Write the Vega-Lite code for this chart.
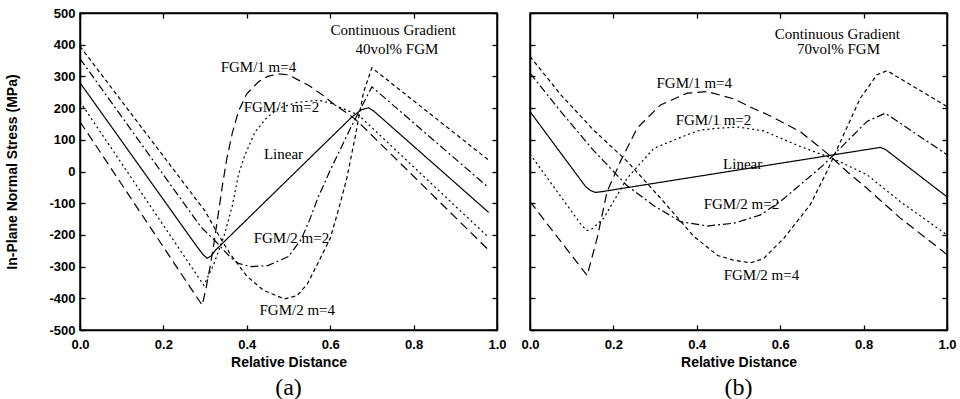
{
"$schema": "https://vega.github.io/schema/vega-lite/v6.json",
"padding": {"left": 5, "top": 6, "right": 5, "bottom": 2},
"bounds": "flush",
"spacing": 33,
"background": "white",
"config": {
  "view": {"stroke": "black", "strokeWidth": 1.5},
  "axis": {"domainColor": "black", "domainWidth": 1.5, "tickColor": "black", "tickSize": -5, "tickWidth": 1.3, "grid": false,
    "labelFont": "Liberation Sans", "labelFontWeight": "bold", "labelFontSize": 13, "labelColor": "black",
    "titleFont": "Liberation Sans", "titleFontWeight": "bold", "titleFontSize": 14, "titleColor": "black"},
  "title": {"font": "Liberation Serif", "fontSize": 24, "fontWeight": "normal", "color": "black"},
  "text": {"font": "Liberation Serif", "fontSize": 15, "color": "black"}
},
"datasets": {
"curves": [
{"p":"a","s":"Linear","x":0,"y":280},{"p":"a","s":"Linear","x":0.28,"y":-236},{"p":"a","s":"Linear","x":0.295,"y":-262},{"p":"a","s":"Linear","x":0.305,"y":-274},{"p":"a","s":"Linear","x":0.315,"y":-266},{"p":"a","s":"Linear","x":0.325,"y":-248},{"p":"a","s":"Linear","x":0.652,"y":172},{"p":"a","s":"Linear","x":0.675,"y":195},{"p":"a","s":"Linear","x":0.692,"y":201},{"p":"a","s":"Linear","x":0.705,"y":190},{"p":"a","s":"Linear","x":0.98,"y":-129},
{"p":"a","s":"FGM/1 m=4","x":0,"y":157},{"p":"a","s":"FGM/1 m=4","x":0.293,"y":-422},{"p":"a","s":"FGM/1 m=4","x":0.302,"y":-370},{"p":"a","s":"FGM/1 m=4","x":0.312,"y":-300},{"p":"a","s":"FGM/1 m=4","x":0.322,"y":-220},{"p":"a","s":"FGM/1 m=4","x":0.332,"y":-130},{"p":"a","s":"FGM/1 m=4","x":0.342,"y":-40},{"p":"a","s":"FGM/1 m=4","x":0.352,"y":40},{"p":"a","s":"FGM/1 m=4","x":0.365,"y":120},{"p":"a","s":"FGM/1 m=4","x":0.38,"y":190},{"p":"a","s":"FGM/1 m=4","x":0.4,"y":245},{"p":"a","s":"FGM/1 m=4","x":0.428,"y":283},{"p":"a","s":"FGM/1 m=4","x":0.45,"y":300},{"p":"a","s":"FGM/1 m=4","x":0.476,"y":308},{"p":"a","s":"FGM/1 m=4","x":0.5,"y":305},{"p":"a","s":"FGM/1 m=4","x":0.548,"y":272},{"p":"a","s":"FGM/1 m=4","x":0.58,"y":243},{"p":"a","s":"FGM/1 m=4","x":0.612,"y":209},{"p":"a","s":"FGM/1 m=4","x":0.64,"y":185},{"p":"a","s":"FGM/1 m=4","x":0.66,"y":165},{"p":"a","s":"FGM/1 m=4","x":0.68,"y":140},{"p":"a","s":"FGM/1 m=4","x":0.98,"y":-248},
{"p":"a","s":"FGM/1 m=2","x":0,"y":220},{"p":"a","s":"FGM/1 m=2","x":0.297,"y":-359},{"p":"a","s":"FGM/1 m=2","x":0.32,"y":-295},{"p":"a","s":"FGM/1 m=2","x":0.345,"y":-205},{"p":"a","s":"FGM/1 m=2","x":0.365,"y":-110},{"p":"a","s":"FGM/1 m=2","x":0.38,"y":-10},{"p":"a","s":"FGM/1 m=2","x":0.395,"y":50},{"p":"a","s":"FGM/1 m=2","x":0.42,"y":125},{"p":"a","s":"FGM/1 m=2","x":0.448,"y":170},{"p":"a","s":"FGM/1 m=2","x":0.476,"y":199},{"p":"a","s":"FGM/1 m=2","x":0.52,"y":218},{"p":"a","s":"FGM/1 m=2","x":0.572,"y":225},{"p":"a","s":"FGM/1 m=2","x":0.6,"y":216},{"p":"a","s":"FGM/1 m=2","x":0.628,"y":200},{"p":"a","s":"FGM/1 m=2","x":0.668,"y":178},{"p":"a","s":"FGM/1 m=2","x":0.98,"y":-208},
{"p":"a","s":"FGM/2 m=2","x":0,"y":356},{"p":"a","s":"FGM/2 m=2","x":0.29,"y":-175},{"p":"a","s":"FGM/2 m=2","x":0.325,"y":-220},{"p":"a","s":"FGM/2 m=2","x":0.36,"y":-270},{"p":"a","s":"FGM/2 m=2","x":0.38,"y":-290},{"p":"a","s":"FGM/2 m=2","x":0.41,"y":-300},{"p":"a","s":"FGM/2 m=2","x":0.45,"y":-297},{"p":"a","s":"FGM/2 m=2","x":0.5,"y":-268},{"p":"a","s":"FGM/2 m=2","x":0.53,"y":-215},{"p":"a","s":"FGM/2 m=2","x":0.55,"y":-155},{"p":"a","s":"FGM/2 m=2","x":0.57,"y":-85},{"p":"a","s":"FGM/2 m=2","x":0.6,"y":4},{"p":"a","s":"FGM/2 m=2","x":0.65,"y":140},{"p":"a","s":"FGM/2 m=2","x":0.7,"y":267},{"p":"a","s":"FGM/2 m=2","x":0.98,"y":-51},
{"p":"a","s":"FGM/2 m=4","x":0,"y":395},{"p":"a","s":"FGM/2 m=4","x":0.3,"y":-125},{"p":"a","s":"FGM/2 m=4","x":0.33,"y":-195},{"p":"a","s":"FGM/2 m=4","x":0.36,"y":-260},{"p":"a","s":"FGM/2 m=4","x":0.4,"y":-330},{"p":"a","s":"FGM/2 m=4","x":0.44,"y":-375},{"p":"a","s":"FGM/2 m=4","x":0.49,"y":-402},{"p":"a","s":"FGM/2 m=4","x":0.52,"y":-392},{"p":"a","s":"FGM/2 m=4","x":0.545,"y":-355},{"p":"a","s":"FGM/2 m=4","x":0.568,"y":-296},{"p":"a","s":"FGM/2 m=4","x":0.6,"y":-211},{"p":"a","s":"FGM/2 m=4","x":0.62,"y":-120},{"p":"a","s":"FGM/2 m=4","x":0.64,"y":-20},{"p":"a","s":"FGM/2 m=4","x":0.66,"y":110},{"p":"a","s":"FGM/2 m=4","x":0.68,"y":250},{"p":"a","s":"FGM/2 m=4","x":0.7,"y":327},{"p":"a","s":"FGM/2 m=4","x":0.98,"y":36},
{"p":"b","s":"Linear","x":0,"y":189},{"p":"b","s":"Linear","x":0.133,"y":-47},{"p":"b","s":"Linear","x":0.145,"y":-60},{"p":"b","s":"Linear","x":0.157,"y":-66},{"p":"b","s":"Linear","x":0.17,"y":-64},{"p":"b","s":"Linear","x":0.84,"y":76},{"p":"b","s":"Linear","x":0.852,"y":70},{"p":"b","s":"Linear","x":1.0,"y":-80},
{"p":"b","s":"FGM/1 m=4","x":0,"y":-95},{"p":"b","s":"FGM/1 m=4","x":0.137,"y":-328},{"p":"b","s":"FGM/1 m=4","x":0.161,"y":-210},{"p":"b","s":"FGM/1 m=4","x":0.185,"y":-63},{"p":"b","s":"FGM/1 m=4","x":0.217,"y":32},{"p":"b","s":"FGM/1 m=4","x":0.257,"y":137},{"p":"b","s":"FGM/1 m=4","x":0.313,"y":210},{"p":"b","s":"FGM/1 m=4","x":0.377,"y":247},{"p":"b","s":"FGM/1 m=4","x":0.425,"y":252},{"p":"b","s":"FGM/1 m=4","x":0.489,"y":229},{"p":"b","s":"FGM/1 m=4","x":0.537,"y":198},{"p":"b","s":"FGM/1 m=4","x":0.569,"y":180},{"p":"b","s":"FGM/1 m=4","x":0.648,"y":126},{"p":"b","s":"FGM/1 m=4","x":0.712,"y":58},{"p":"b","s":"FGM/1 m=4","x":0.76,"y":0},{"p":"b","s":"FGM/1 m=4","x":0.808,"y":-53},{"p":"b","s":"FGM/1 m=4","x":0.888,"y":-147},{"p":"b","s":"FGM/1 m=4","x":1.0,"y":-262},
{"p":"b","s":"FGM/1 m=2","x":0,"y":55},{"p":"b","s":"FGM/1 m=2","x":0.125,"y":-172},{"p":"b","s":"FGM/1 m=2","x":0.137,"y":-186},{"p":"b","s":"FGM/1 m=2","x":0.15,"y":-180},{"p":"b","s":"FGM/1 m=2","x":0.177,"y":-147},{"p":"b","s":"FGM/1 m=2","x":0.233,"y":-21},{"p":"b","s":"FGM/1 m=2","x":0.297,"y":73},{"p":"b","s":"FGM/1 m=2","x":0.377,"y":116},{"p":"b","s":"FGM/1 m=2","x":0.409,"y":131},{"p":"b","s":"FGM/1 m=2","x":0.457,"y":137},{"p":"b","s":"FGM/1 m=2","x":0.5,"y":140},{"p":"b","s":"FGM/1 m=2","x":0.56,"y":128},{"p":"b","s":"FGM/1 m=2","x":0.648,"y":79},{"p":"b","s":"FGM/1 m=2","x":0.728,"y":40},{"p":"b","s":"FGM/1 m=2","x":0.808,"y":-10},{"p":"b","s":"FGM/1 m=2","x":0.888,"y":-95},{"p":"b","s":"FGM/1 m=2","x":1.0,"y":-200},
{"p":"b","s":"FGM/2 m=2","x":0,"y":310},{"p":"b","s":"FGM/2 m=2","x":0.074,"y":189},{"p":"b","s":"FGM/2 m=2","x":0.15,"y":70},{"p":"b","s":"FGM/2 m=2","x":0.193,"y":10},{"p":"b","s":"FGM/2 m=2","x":0.233,"y":-45},{"p":"b","s":"FGM/2 m=2","x":0.297,"y":-108},{"p":"b","s":"FGM/2 m=2","x":0.361,"y":-158},{"p":"b","s":"FGM/2 m=2","x":0.425,"y":-172},{"p":"b","s":"FGM/2 m=2","x":0.489,"y":-163},{"p":"b","s":"FGM/2 m=2","x":0.553,"y":-137},{"p":"b","s":"FGM/2 m=2","x":0.6,"y":-95},{"p":"b","s":"FGM/2 m=2","x":0.648,"y":-42},{"p":"b","s":"FGM/2 m=2","x":0.704,"y":21},{"p":"b","s":"FGM/2 m=2","x":0.752,"y":84},{"p":"b","s":"FGM/2 m=2","x":0.808,"y":158},{"p":"b","s":"FGM/2 m=2","x":0.852,"y":184},{"p":"b","s":"FGM/2 m=2","x":1.0,"y":53},
{"p":"b","s":"FGM/2 m=4","x":0,"y":363},{"p":"b","s":"FGM/2 m=4","x":0.074,"y":242},{"p":"b","s":"FGM/2 m=4","x":0.153,"y":130},{"p":"b","s":"FGM/2 m=4","x":0.233,"y":32},{"p":"b","s":"FGM/2 m=4","x":0.313,"y":-84},{"p":"b","s":"FGM/2 m=4","x":0.393,"y":-205},{"p":"b","s":"FGM/2 m=4","x":0.45,"y":-265},{"p":"b","s":"FGM/2 m=4","x":0.489,"y":-280},{"p":"b","s":"FGM/2 m=4","x":0.529,"y":-288},{"p":"b","s":"FGM/2 m=4","x":0.56,"y":-275},{"p":"b","s":"FGM/2 m=4","x":0.609,"y":-210},{"p":"b","s":"FGM/2 m=4","x":0.672,"y":-105},{"p":"b","s":"FGM/2 m=4","x":0.712,"y":0},{"p":"b","s":"FGM/2 m=4","x":0.752,"y":116},{"p":"b","s":"FGM/2 m=4","x":0.792,"y":231},{"p":"b","s":"FGM/2 m=4","x":0.832,"y":305},{"p":"b","s":"FGM/2 m=4","x":0.856,"y":318},{"p":"b","s":"FGM/2 m=4","x":1.0,"y":205}
],
"notes": [
{"p":"a","t":"Continuous Gradient","x":0.751,"y":445},{"p":"a","t":"40vol% FGM","x":0.76,"y":388},{"p":"a","t":"FGM/1 m=4","x":0.428,"y":331},{"p":"a","t":"FGM/1 m=2","x":0.483,"y":205},{"p":"a","t":"Linear","x":0.488,"y":54},{"p":"a","t":"FGM/2 m=2","x":0.507,"y":-211},{"p":"a","t":"FGM/2 m=4","x":0.521,"y":-438},
{"p":"b","t":"Continuous Gradient","x":0.737,"y":435},{"p":"b","t":"70vol% FGM","x":0.74,"y":385},{"p":"b","t":"FGM/1 m=4","x":0.394,"y":278},{"p":"b","t":"FGM/1 m=2","x":0.44,"y":164},{"p":"b","t":"Linear","x":0.51,"y":25},{"p":"b","t":"FGM/2 m=2","x":0.507,"y":-101},{"p":"b","t":"FGM/2 m=4","x":0.555,"y":-325}
]
},
"hconcat": [
{
  "width": 417, "height": 317,
  "title": {"text": "(a)", "orient": "bottom", "anchor": "middle", "offset": 7},
  "resolve": {"axis": {"x": "independent", "y": "independent"}},
  "layer": [
    {"data": {"name": "curves"}, "transform": [{"filter": "datum.p === 'a'"}],
     "mark": {"type": "line", "color": "black", "strokeWidth": 1.2},
     "encoding": {
       "x": {"field": "x", "type": "quantitative", "scale": {"domain": [0, 1], "nice": false},
             "axis": {"orient": "bottom", "values": [0, 0.2, 0.4, 0.6, 0.8, 1.0], "labelExpr": "format(datum.value, '.1f')", "labelFlush": false, "labelOverlap": false, "labelBound": false, "labelPadding": 13, "title": "Relative Distance", "titlePadding": 4}},
       "y": {"field": "y", "type": "quantitative", "scale": {"domain": [-500, 500], "nice": false},
             "axis": {"orient": "left", "values": [-500,-400,-300,-200,-100,0,100,200,300,400,500], "labelExpr": "datum.value + ''", "labelPadding": 10, "labelOverlap": false, "labelBound": false, "title": "In-Plane Normal Stress (MPa)", "titlePadding": 29}},
       "strokeDash": {"field": "s", "type": "nominal", "legend": null,
         "scale": {"domain": ["Linear", "FGM/1 m=4", "FGM/1 m=2", "FGM/2 m=2", "FGM/2 m=4"], "range": [[1, 0], [9, 5], [2, 3], [8, 3, 2, 3], [4, 3]]}}
     }},
    {"data": {"name": "notes"}, "transform": [{"filter": "datum.p === 'a'"}],
     "mark": {"type": "text", "align": "center", "baseline": "middle"},
     "encoding": {
       "x": {"field": "x", "type": "quantitative", "axis": {"orient": "top", "values": [0, 0.2, 0.4, 0.6, 0.8, 1.0], "labels": false, "title": null}},
       "y": {"field": "y", "type": "quantitative", "axis": {"orient": "right", "values": [-500,-400,-300,-200,-100,0,100,200,300,400,500], "labels": false, "title": null}},
       "text": {"field": "t"}
     }}
  ]
},
{
  "width": 417, "height": 317,
  "title": {"text": "(b)", "orient": "bottom", "anchor": "middle", "offset": 7},
  "resolve": {"axis": {"x": "independent", "y": "independent"}},
  "layer": [
    {"data": {"name": "curves"}, "transform": [{"filter": "datum.p === 'b'"}],
     "mark": {"type": "line", "color": "black", "strokeWidth": 1.2},
     "encoding": {
       "x": {"field": "x", "type": "quantitative", "scale": {"domain": [0, 1], "nice": false},
             "axis": {"orient": "bottom", "values": [0, 0.2, 0.4, 0.6, 0.8, 1.0], "labelExpr": "format(datum.value, '.1f')", "labelFlush": false, "labelOverlap": false, "labelBound": false, "labelPadding": 13, "title": "Relative Distance", "titlePadding": 4}},
       "y": {"field": "y", "type": "quantitative", "scale": {"domain": [-500, 500], "nice": false},
             "axis": {"orient": "left", "values": [-500,-400,-300,-200,-100,0,100,200,300,400,500], "labels": false, "title": null}},
       "strokeDash": {"field": "s", "type": "nominal", "legend": null,
         "scale": {"domain": ["Linear", "FGM/1 m=4", "FGM/1 m=2", "FGM/2 m=2", "FGM/2 m=4"], "range": [[1, 0], [9, 5], [2, 3], [8, 3, 2, 3], [4, 3]]}}
     }},
    {"data": {"name": "notes"}, "transform": [{"filter": "datum.p === 'b'"}],
     "mark": {"type": "text", "align": "center", "baseline": "middle"},
     "encoding": {
       "x": {"field": "x", "type": "quantitative", "axis": {"orient": "top", "values": [0, 0.2, 0.4, 0.6, 0.8, 1.0], "labels": false, "title": null}},
       "y": {"field": "y", "type": "quantitative", "axis": {"orient": "right", "values": [-500,-400,-300,-200,-100,0,100,200,300,400,500], "labels": false, "title": null}},
       "text": {"field": "t"}
     }}
  ]
}
]
}
